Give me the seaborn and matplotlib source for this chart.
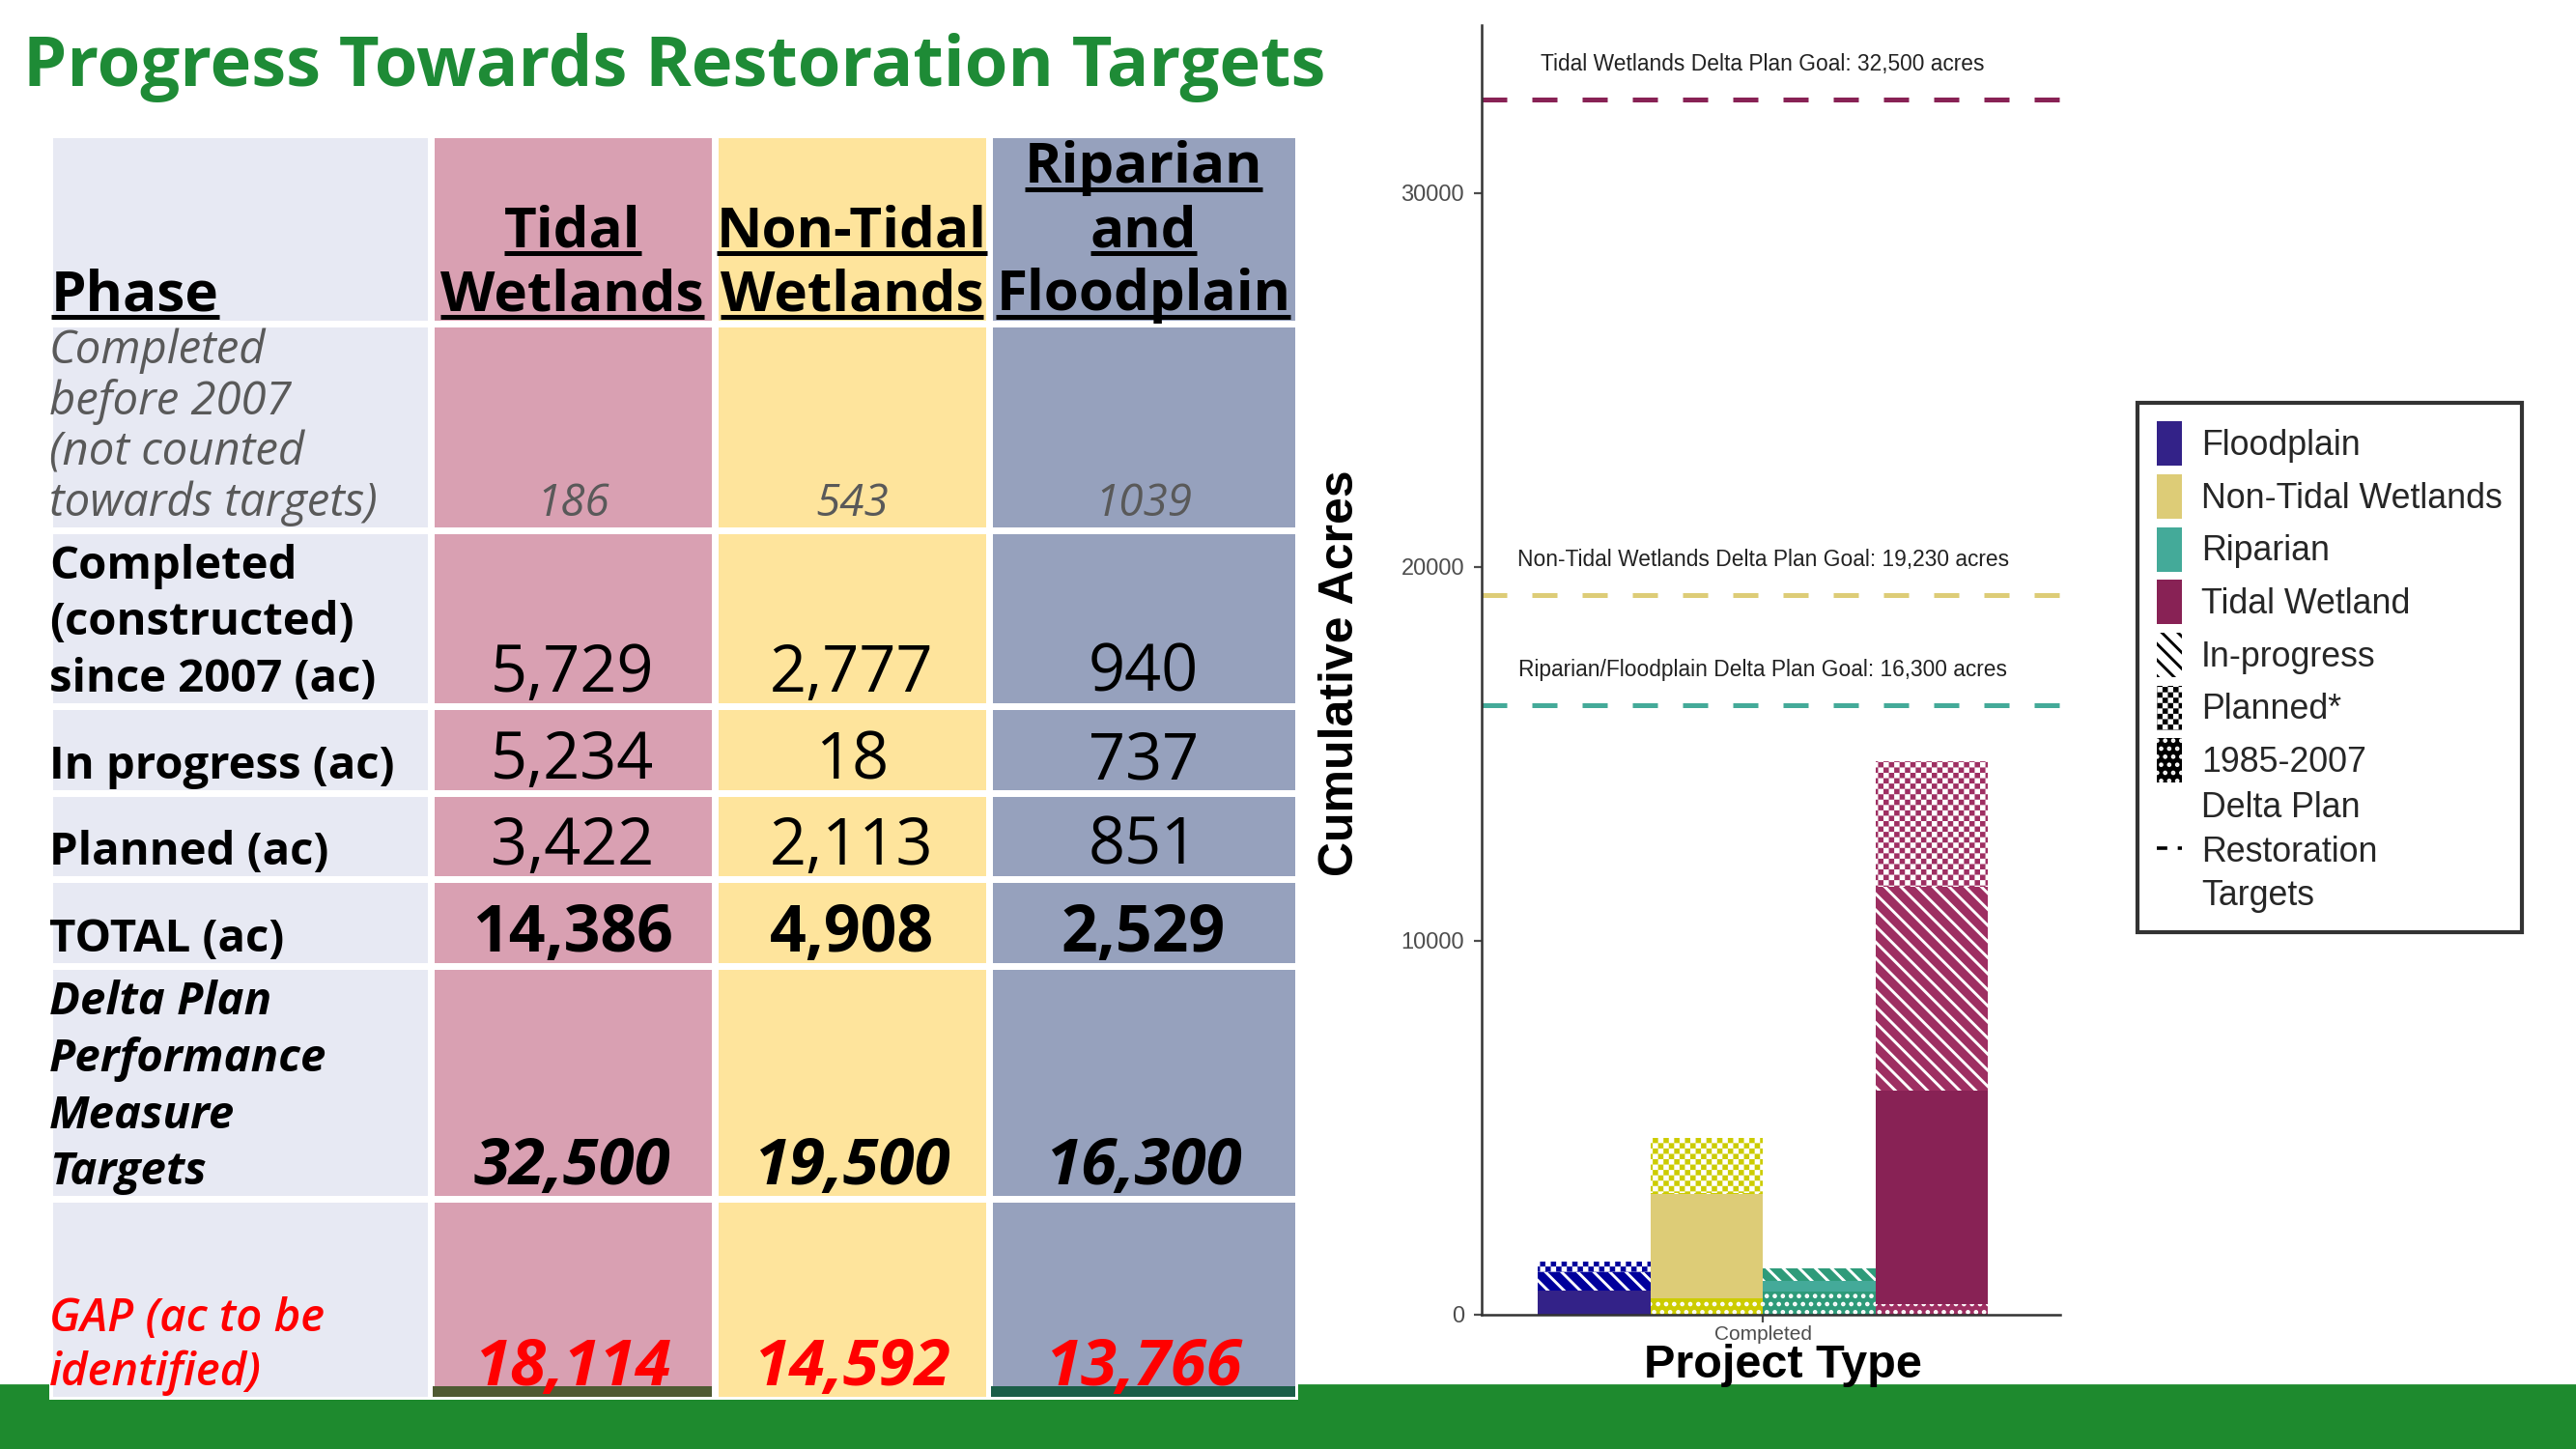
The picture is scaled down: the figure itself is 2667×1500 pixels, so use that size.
import numpy as np
import pandas as pd
import seaborn as sns
import matplotlib
import matplotlib.pyplot as plt
from matplotlib import hatch as mhatch
from matplotlib.path import Path
from matplotlib.colors import ListedColormap
from matplotlib.patches import Patch, Rectangle
from matplotlib.lines import Line2D

# ---------------- chart data (acres) ----------------
project_types = ["Floodplain", "Non-Tidal Wetlands", "Riparian", "Tidal Wetland"]
pre_2007 = [0, 430, 620, 260]
completed = [630, 2790, 280, 5730]
in_progress = [490, 18, 330, 5450]
planned = [300, 1480, 0, 3360]
stage = "Completed"

goal_values = [32500, 19230, 16300]
goal_labels = ["Tidal Wetlands Delta Plan Goal: 32,500 acres",
               "Non-Tidal Wetlands Delta Plan Goal: 19,230 acres",
               "Riparian/Floodplain Delta Plan Goal: 16,300 acres"]
goal_colors = ["#882255", "#DDCC77", "#44AA99"]

solid_colors = ["#332288", "#DDCC77", "#44AA99", "#882255"]
pattern_colors = ["#00009C", "#CCCC00", "#2E9B7A", "#9E2F62"]

# ---------------- table data ----------------
header_lines = [["Phase"], ["Tidal", "Wetlands"], ["Non-Tidal", "Wetlands"],
                ["Riparian", "and", "Floodplain"]]
row_labels = [
    ["Completed", "before 2007", "(not counted", "towards targets)"],
    ["Completed", "(constructed)", "since 2007 (ac)"],
    ["In progress (ac)"],
    ["Planned (ac)"],
    ["TOTAL (ac)"],
    ["Delta Plan", "Performance", "Measure", "Targets"],
    ["GAP (ac to be", "identified)"],
]
tidal_col = ["186", "5,729", "5,234", "3,422", "14,386", "32,500", "18,114"]
nontidal_col = ["543", "2,777", "18", "2,113", "4,908", "19,500", "14,592"]
riparian_col = ["1039", "940", "737", "851", "2,529", "16,300", "13,766"]
table_colors = ["#E7E9F3", "#D9A0B2", "#FEE49C", "#96A1BD"]


# checkerboard hatch, used through the '*' character
class CheckerHatch(mhatch.HatchPatternBase):
    def __init__(self, hatch, density):
        self.n = hatch.count('*') * density * 6
        self.num_vertices = (self.n * self.n // 2) * 5 if self.n else 0

    def set_vertices_and_codes(self, vertices, codes):
        n = self.n
        cell = 1.0 / n
        shrink = matplotlib.rcParams['hatch.linewidth'] / 72.0 / 2.0
        sq = np.array([[0, 0], [1, 0], [1, 1], [0, 1], [0, 0]], float)
        k = 0
        for i in range(n):
            for j in range(n):
                if (i + j) % 2:
                    continue
                v = sq * (cell - 2 * shrink) + [i * cell + shrink, j * cell + shrink]
                vertices[k:k + 5] = v
                codes[k] = Path.MOVETO
                codes[k + 1:k + 4] = Path.LINETO
                codes[k + 4] = Path.CLOSEPOLY
                k += 5


mhatch._hatch_types = [t for t in mhatch._hatch_types if t is not mhatch.Stars] + [CheckerHatch]

sns.set_style("white")
plt.rcParams['hatch.linewidth'] = 1.05
plt.rcParams['font.family'] = ['Liberation Sans', 'DejaVu Sans']

W, H = 1568.0, 882.0  # layout grid of the slide
fig = plt.figure(figsize=(13.335, 7.5), dpi=200)

# green band at the bottom of the slide
fig.add_artist(Rectangle((0, 0), 1, 1 - 843 / H, transform=fig.transFigure,
                         color="#1E8A2E", zorder=0))

fig.text(14 / W, 1 - 41 / H, "Progress Towards Restoration Targets", family="Open Sans",
         fontweight="bold", fontsize=26, color="#1E8B36", va="center", ha="left")

# ---------------- stacked bar chart ----------------
ax = fig.add_axes([902 / W, 1 - 800 / H, 352 / W, 785 / H])
cum1 = np.array(pre_2007) + np.array(completed)
cum2 = cum1 + np.array(in_progress)
cum3 = cum2 + np.array(planned)
layers = [(cum3, pattern_colors, "*"),
          (cum2, pattern_colors, "\\\\\\\\"),
          (cum1, solid_colors, None),
          (np.array(pre_2007), pattern_colors, "....")]
for vals, cols, hatch in layers:
    before = len(ax.patches)
    df = pd.DataFrame({"stage": stage, "type": project_types, "acres": vals})
    sns.barplot(data=df, x="stage", y="acres", hue="type", hue_order=project_types,
                palette=cols, saturation=1, width=0.8, errorbar=None, legend=False, ax=ax)
    for p in ax.patches[before:]:
        p.set_edgecolor("white")
        p.set_linewidth(0)
        if hatch:
            p.set_hatch(hatch)

for g, lab, c in zip(goal_values, goal_labels, goal_colors):
    ax.axhline(g, color=c, lw=1.8, ls=(0, (5.2, 5.2)), zorder=1)
    ax.text(0, g + 950, lab, ha="center", va="center", fontsize=8.2, color="#222222")

ax.set_xlim(-0.499, 0.528)
ax.set_ylim(0, 34500)
ax.set_yticks([0, 10000, 20000, 30000])
ax.tick_params(axis="both", colors="#4D4D4D", labelsize=8.5, length=3, width=0.8,
               left=True, bottom=True)
ax.tick_params(axis="x", pad=1, labelsize=7.5)
for s in ["top", "right"]:
    ax.spines[s].set_visible(False)
for s in ["left", "bottom"]:
    ax.spines[s].set_color("#333333")
    ax.spines[s].set_linewidth(0.9)
ax.set_ylabel("Cumulative Acres", fontsize=18, fontweight="bold", color="black")
ax.yaxis.set_label_coords(-0.205, 0.497)
ax.set_xlabel("Project Type", fontsize=17.5, fontweight="bold", color="black")
ax.xaxis.set_label_coords(0.52, -0.023)
ax.patch.set_alpha(0)

legend_handles = [Patch(facecolor=c, edgecolor="none") for c in solid_colors]
legend_handles += [Patch(facecolor="white", edgecolor="black", lw=0, hatch="\\\\\\\\"),
                   Patch(facecolor="white", edgecolor="black", lw=0, hatch="*"),
                   Patch(facecolor="black", edgecolor="white", lw=0, hatch="...."),
                   Line2D([], [], color="black", lw=1.3, ls=(0, (3, 3)))]
legend_labels = project_types + ["In-progress", "Planned*", "1985-2007",
                                 "Delta Plan\nRestoration\nTargets"]
leg = fig.legend(legend_handles, legend_labels, loc="upper left",
                 bbox_to_anchor=(1301 / W, 1 - 245 / H), fontsize=12.9, frameon=True,
                 fancybox=False, edgecolor="black", handlelength=0.75, handleheight=1.6,
                 labelspacing=0.24, handletextpad=0.55, borderpad=0.55, borderaxespad=0)
leg.get_frame().set_linewidth(1.5)
for t in leg.get_texts():
    t.set_linespacing(1.4)

# ---------------- table ----------------
col_edges = [0, 232, 405, 572, 760]
row_edges = [0, 115, 241, 348, 401, 453, 506, 648, 770]
tab = fig.add_axes([30 / W, 1 - 852 / H, 760 / W, 770 / H])
grid = np.tile(np.arange(4), (len(row_edges) - 1, 1))
tab.pcolormesh(col_edges, row_edges, grid, cmap=ListedColormap(table_colors),
               vmin=-0.5, vmax=3.5, edgecolors="white", linewidth=2.5, shading="flat")
# dark strips along the foot of the tidal and riparian columns
for ci, c in [(1, "#4F5A32"), (3, "#1A5E48")]:
    tab.add_patch(Rectangle((col_edges[ci] + 1.5, row_edges[-1] - 8),
                            col_edges[ci + 1] - col_edges[ci] - 3, 6, color=c, lw=0))
tab.set_xlim(0, 760)
tab.set_ylim(770, 0)
tab.axis("off")

tfont = "Open Sans"
centers = [(col_edges[i] + col_edges[i + 1]) / 2 for i in range(4)]
header_texts = []
for ci, lines in enumerate(header_lines):
    for k, line in enumerate(reversed(lines)):
        y = row_edges[1] - 8 - 39 * k
        x = 1 if ci == 0 else centers[ci]
        t = tab.text(x, y, line, ha="left" if ci == 0 else "center", va="baseline",
                     family=tfont, fontweight="bold", fontsize=21, color="black")
        header_texts.append((t, y))

line_steps = [31, 34.5, 0, 0, 0, 34.5, 33]
label_style = [dict(style="italic", fontweight="normal", color="#595959"),
               dict(style="normal", fontweight="bold", color="black"),
               dict(style="normal", fontweight="bold", color="black"),
               dict(style="normal", fontweight="bold", color="black"),
               dict(style="normal", fontweight="bold", color="black"),
               dict(style="italic", fontweight="bold", color="black"),
               dict(style="italic", fontweight="semibold", color="#FF0000")]
value_style = [dict(style="italic", fontweight="normal", color="#595959", fontsize=16.5),
               dict(style="normal", fontweight="normal", color="black", fontsize=24),
               dict(style="normal", fontweight="normal", color="black", fontsize=24),
               dict(style="normal", fontweight="normal", color="black", fontsize=24),
               dict(style="normal", fontweight="bold", color="black", fontsize=23.8),
               dict(style="italic", fontweight="bold", color="black", fontsize=24.2),
               dict(style="italic", fontweight="bold", color="#FF0000", fontsize=24.2)]
for r, lines in enumerate(row_labels):
    base = row_edges[r + 2] - 9
    for k, line in enumerate(reversed(lines)):
        tab.text(0, base - line_steps[r] * k, line, ha="left", va="baseline",
                 family=tfont, fontsize=17, **label_style[r])
    for ci, col in enumerate([tidal_col, nontidal_col, riparian_col]):
        tab.text(centers[ci + 1], base, col[r], ha="center", va="baseline",
                 family=tfont, **value_style[r])

# underline the header words
fig.canvas.draw()
inv = tab.transData.inverted()
for t, y in header_texts:
    bb = t.get_window_extent().transformed(inv)
    tab.plot([bb.x0, bb.x1], [y + 4, y + 4], color="black", lw=1.8,
             solid_capstyle="butt")

fig.savefig("out.png", dpi=200)
